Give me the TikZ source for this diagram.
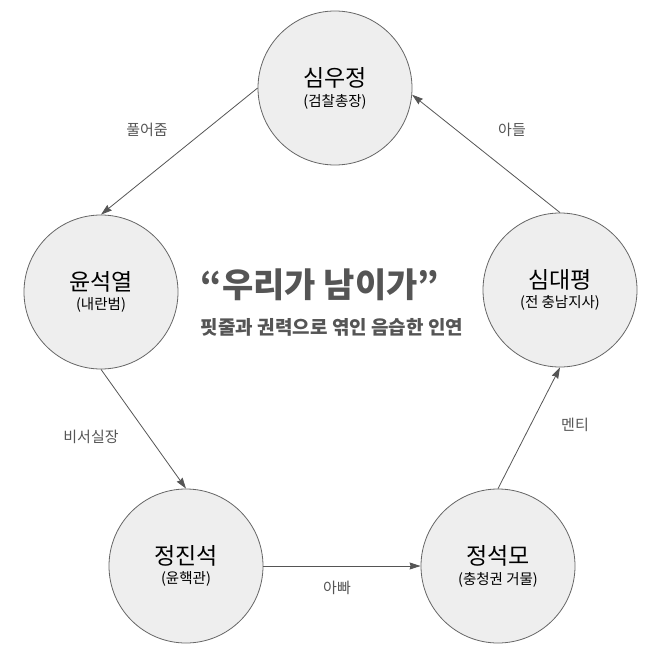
\documentclass[tikz,border=0pt]{standalone}
\usepackage{fontspec}
\setmainfont{Noto Sans CJK KR}
\usetikzlibrary{arrows.meta}
\definecolor{circfill}{HTML}{EEEEEE}
\definecolor{circline}{HTML}{666666}
\definecolor{linkgray}{HTML}{555555}
\definecolor{titlegray}{HTML}{555555}
\newcommand\who[2]{{\fontsize{23}{25}\selectfont #1}\\[5pt]{\fontsize{14.5}{16}\selectfont (#2)}}

\begin{document}
\begin{tikzpicture}[x=1pt,y=-1pt,
  person/.style={circle, draw=circline, fill=circfill, line width=0.8pt, minimum size=154pt, inner sep=0pt, align=center},
  link/.style={draw=linkgray, line width=0.8pt, -{Stealth[length=11pt,width=7pt,inset=1pt]}},
  linklabel/.style={text=linkgray, font=\fontsize{15}{17}\selectfont}]
\useasboundingbox (0,0) rectangle (658,658);
\node[person] (sim) at (335,88) {\who{심우정}{검찰총장}};
\node[person] (yoon) at (101,292) {\who{윤석열}{내란범}};
\node[person] (simdp) at (560,290) {\who{심대평}{전 충남지사}};
\node[person] (jjs) at (186,566) {\who{정진석}{윤핵관}};
\node[person] (jsm) at (498,566) {\who{정석모}{충청권 거물}};
\draw[link] (sim.west) -- (yoon.north);
\draw[link] (yoon.south) -- (jjs.north);
\draw[link] (jjs.east) -- (jsm.west);
\draw[link] (jsm.north) -- (simdp.south);
\draw[link] (simdp.north) -- (sim.-5);
\node[linklabel] (l1) at (147,130) {풀어줌};
\node[linklabel] (l2) at (512,130) {아들};
\node[linklabel] (l3) at (91,437) {비서실장};
\node[linklabel] (l4) at (575,425) {멘티};
\node[linklabel] (l5) at (337,588) {아빠};
\node[text=titlegray, font=\fontsize{34}{36}\selectfont\bfseries] (title) at (320,285) {“우리가 남이가”};
\node[text=titlegray, font=\fontsize{19}{21}\selectfont\bfseries] (sub) at (332,327) {핏줄과 권력으로 엮인 음습한 인연};
\end{tikzpicture}
\end{document}
